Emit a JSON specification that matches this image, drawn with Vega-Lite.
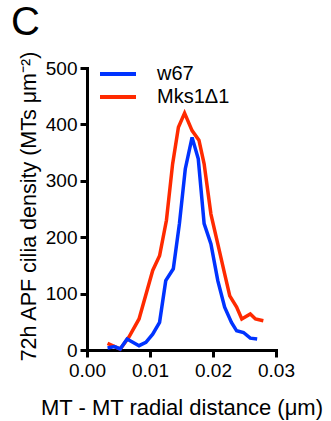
{
  "$schema": "https://vega.github.io/schema/vega-lite/v6.json",
  "autosize": "none",
  "width": 189,
  "height": 282,
  "padding": {"left": 87, "top": 68, "right": 55, "bottom": 71},
  "title": {"text": "C", "anchor": "start", "frame": "group", "fontSize": 40, "font": "Liberation Sans", "fontWeight": "normal", "dx": -76, "offset": 8, "color": "black"},
  "data": {"values": [
    {"d": 0.00326, "v": 11.8, "s": "Mks1Δ1"},
    {"d": 0.00527, "v": 1.8, "s": "Mks1Δ1"},
    {"d": 0.00663, "v": 22.5, "s": "Mks1Δ1"},
    {"d": 0.00826, "v": 55, "s": "Mks1Δ1"},
    {"d": 0.01043, "v": 141, "s": "Mks1Δ1"},
    {"d": 0.01152, "v": 167, "s": "Mks1Δ1"},
    {"d": 0.01261, "v": 230, "s": "Mks1Δ1"},
    {"d": 0.01359, "v": 330, "s": "Mks1Δ1"},
    {"d": 0.01451, "v": 395, "s": "Mks1Δ1"},
    {"d": 0.01549, "v": 420, "s": "Mks1Δ1"},
    {"d": 0.01668, "v": 389, "s": "Mks1Δ1"},
    {"d": 0.01777, "v": 372, "s": "Mks1Δ1"},
    {"d": 0.01859, "v": 330, "s": "Mks1Δ1"},
    {"d": 0.01967, "v": 241, "s": "Mks1Δ1"},
    {"d": 0.02076, "v": 188, "s": "Mks1Δ1"},
    {"d": 0.02185, "v": 135, "s": "Mks1Δ1"},
    {"d": 0.02266, "v": 96, "s": "Mks1Δ1"},
    {"d": 0.02375, "v": 76, "s": "Mks1Δ1"},
    {"d": 0.02457, "v": 55, "s": "Mks1Δ1"},
    {"d": 0.02592, "v": 64, "s": "Mks1Δ1"},
    {"d": 0.02674, "v": 55, "s": "Mks1Δ1"},
    {"d": 0.02799, "v": 52, "s": "Mks1Δ1"},
    {"d": 0.00326, "v": 3.6, "s": "w67"},
    {"d": 0.00435, "v": 6, "s": "w67"},
    {"d": 0.00527, "v": 1.8, "s": "w67"},
    {"d": 0.00636, "v": 19.5, "s": "w67"},
    {"d": 0.00826, "v": 7.7, "s": "w67"},
    {"d": 0.00935, "v": 13.6, "s": "w67"},
    {"d": 0.01043, "v": 28, "s": "w67"},
    {"d": 0.01152, "v": 49, "s": "w67"},
    {"d": 0.0125, "v": 123, "s": "w67"},
    {"d": 0.0137, "v": 144, "s": "w67"},
    {"d": 0.01467, "v": 224, "s": "w67"},
    {"d": 0.0156, "v": 321, "s": "w67"},
    {"d": 0.01668, "v": 377, "s": "w67"},
    {"d": 0.01766, "v": 339, "s": "w67"},
    {"d": 0.01859, "v": 224, "s": "w67"},
    {"d": 0.01967, "v": 188, "s": "w67"},
    {"d": 0.02076, "v": 123, "s": "w67"},
    {"d": 0.02185, "v": 76, "s": "w67"},
    {"d": 0.02293, "v": 49, "s": "w67"},
    {"d": 0.02375, "v": 34, "s": "w67"},
    {"d": 0.02484, "v": 31, "s": "w67"},
    {"d": 0.02592, "v": 21, "s": "w67"},
    {"d": 0.02701, "v": 19.5, "s": "w67"}
  ]},
  "mark": {"type": "line", "strokeWidth": 3.5, "strokeJoin": "miter", "clip": false},
  "encoding": {
    "x": {"field": "d", "type": "quantitative", "scale": {"domain": [0, 0.03], "nice": false, "zero": false},
      "axis": {"values": [0, 0.01, 0.02, 0.03], "format": ".2f", "title": "MT - MT radial distance (μm)", "grid": false,
        "titleX": 94.5, "titleY": 64, "titleBaseline": "alphabetic", "labelPadding": 4, "labelFlush": false, "titleFontSize": 22}},
    "y": {"field": "v", "type": "quantitative", "scale": {"domain": [0, 500], "nice": false},
      "axis": {"values": [0, 100, 200, 300, 400, 500], "title": "72h APF cilia density (MTs μm⁻²)", "grid": false,
        "titleX": -52, "titleY": 138, "titleBaseline": "alphabetic", "labelPadding": 3, "labelFlush": false, "titleFontSize": 21.5}},
    "color": {"field": "s", "type": "nominal", "sort": ["w67", "Mks1Δ1"],
      "scale": {"domain": ["w67", "Mks1Δ1"], "range": ["#0033FF", "#FF2A00"]},
      "legend": {"title": null, "orient": "none", "legendX": 20, "legendY": -5, "symbolType": "M-2,0L2,0", "symbolSize": 324, "symbolStrokeWidth": 4, "labelOffset": 28, "labelFontSize": 20, "labelFont": "Liberation Sans", "labelColor": "black", "rowPadding": 2}}
  },
  "config": {
    "view": {"stroke": null},
    "axis": {"domainColor": "black", "domainWidth": 3, "tickColor": "black", "tickWidth": 3, "tickSize": 7, "labelFont": "Liberation Sans", "labelFontSize": 19, "labelColor": "black", "titleFont": "Liberation Sans", "titleFontSize": 21, "titleFontWeight": "normal", "titleColor": "black", "domainCap": "square"}
  }
}
